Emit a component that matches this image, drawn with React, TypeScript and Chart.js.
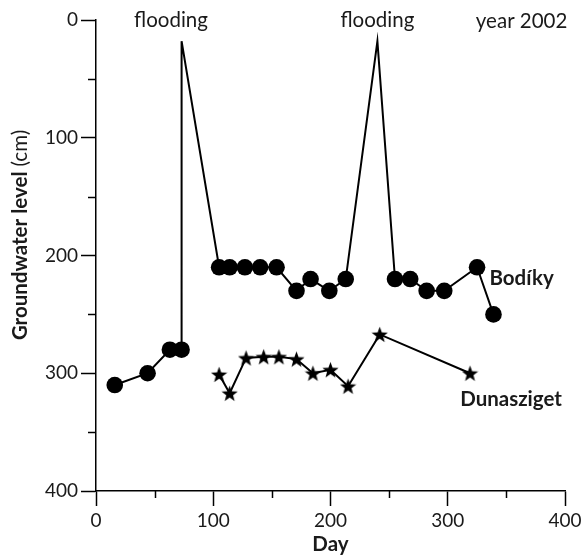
import React, { useEffect, useRef } from 'react';
import { Chart, registerables } from 'chart.js';
Chart.register(...registerables);

// Bodíky groundwater level (cm below surface); flooding peaks have no marker
const bodikyDay = [16, 44, 63, 73, 73, 105, 114, 127, 140, 154, 171, 183, 199, 213, 240, 255, 268, 282, 297, 325, 339];
const bodikyLevel = [310, 300, 280, 280, 18, 210, 210, 210, 210, 210, 230, 220, 230, 220, 18, 220, 220, 230, 230, 210, 250];
const bodikyMeasured = [true, true, true, true, false, true, true, true, true, true, true, true, true, true, false, true, true, true, true, true, true];

// Dunasziget groundwater level
const dunaDay = [105, 114, 128, 143, 156, 171, 185, 200, 215, 242, 319];
const dunaLevel = [301, 317, 287, 286, 286, 288, 300, 297, 311, 267, 300];

const majorStep = 100;
const minorStep = 50;

const FONT = 'Lato, "Open Sans", "DejaVu Sans", sans-serif';
const TEXT = '#1a1a1a';
const LABEL_SIZE = 20.5;
const TICK_SIZE = 19;

function makeStar(size: number): HTMLCanvasElement {
  const c = document.createElement('canvas');
  c.width = size;
  c.height = size;
  const g = c.getContext('2d')!;
  const cx = size / 2;
  const cy = size / 2 + 0.8;
  const ro = size / 2;
  const ri = ro * 0.42;
  g.beginPath();
  for (let i = 0; i < 10; i++) {
    const r = i % 2 === 0 ? ro : ri;
    const a = -Math.PI / 2 + (i * Math.PI) / 5;
    const px = cx + r * Math.cos(a);
    const py = cy + r * Math.sin(a);
    if (i === 0) g.moveTo(px, py);
    else g.lineTo(px, py);
  }
  g.closePath();
  g.fillStyle = '#000';
  g.fill();
  return c;
}

export default function App() {
  const ref = useRef<HTMLCanvasElement | null>(null);

  useEffect(() => {
    const star = makeStar(17);

    const decor = {
      id: 'decor',
      afterDraw(chart: any) {
        const ctx = chart.ctx as CanvasRenderingContext2D;
        const xs = chart.scales.x;
        const ys = chart.scales.y;
        const area = chart.chartArea;
        ctx.save();
        // minor ticks
        ctx.strokeStyle = '#000';
        ctx.lineWidth = 1.5;
        for (let v = minorStep; v < 400; v += majorStep) {
          const px = Math.round(xs.getPixelForValue(v)) + 0.5;
          ctx.beginPath();
          ctx.moveTo(px, area.bottom);
          ctx.lineTo(px, area.bottom + 7);
          ctx.stroke();
          const py = Math.round(ys.getPixelForValue(v)) + 0.5;
          ctx.beginPath();
          ctx.moveTo(area.left - 8, py);
          ctx.lineTo(area.left, py);
          ctx.stroke();
        }
        ctx.fillStyle = TEXT;
        ctx.textBaseline = 'alphabetic';
        ctx.textAlign = 'center';
        // annotations
        ctx.font = `${LABEL_SIZE}px ${FONT}`;
        ctx.fillText('flooding', xs.getPixelForValue(64), 27);
        ctx.fillText('flooding', xs.getPixelForValue(240), 27);
        ctx.fillText('year 2002', xs.getPixelForValue(363), 28);
        ctx.font = `bold ${LABEL_SIZE}px ${FONT}`;
        ctx.fillText('Bodíky', xs.getPixelForValue(363), ys.getPixelForValue(225));
        ctx.fillText('Dunasziget', xs.getPixelForValue(354), ys.getPixelForValue(328));
        // axis titles
        ctx.fillText('Day', (area.left + area.right) / 2, 551);
        ctx.translate(27, 235);
        ctx.rotate(-Math.PI / 2);
        ctx.textAlign = 'left';
        const boldPart = 'Groundwater level ';
        const normPart = '(cm)';
        ctx.font = `bold ${LABEL_SIZE}px ${FONT}`;
        const w1 = ctx.measureText(boldPart).width;
        ctx.font = `${LABEL_SIZE}px ${FONT}`;
        const w2 = ctx.measureText(normPart).width;
        const start = -(w1 + w2) / 2;
        ctx.font = `bold ${LABEL_SIZE}px ${FONT}`;
        ctx.fillText(boldPart, start, 0);
        ctx.font = `${LABEL_SIZE}px ${FONT}`;
        ctx.fillText(normPart, start + w1, 0);
        ctx.restore();
      },
    };

    const majorColor = (c: any) => (c.tick && c.tick.value % majorStep === 0 ? '#000' : 'rgba(0,0,0,0)');
    const tickCb = (v: any) => (Number(v) % majorStep === 0 ? String(v) : '');

    const chart = new Chart(ref.current!, {
      type: 'line',
      data: {
        datasets: [
          {
            label: 'Bodíky',
            data: bodikyDay.map((d, i) => ({ x: d, y: bodikyLevel[i] })),
            borderColor: '#000',
            borderWidth: 2,
            backgroundColor: '#000',
            pointBackgroundColor: '#000',
            pointBorderColor: '#000',
            pointBorderWidth: 0,
            pointRadius: bodikyMeasured.map((m) => (m ? 8.3 : 0)),
            pointHoverRadius: bodikyMeasured.map((m) => (m ? 8.3 : 0)),
            tension: 0,
            fill: false,
          },
          {
            label: 'Dunasziget',
            data: dunaDay.map((d, i) => ({ x: d, y: dunaLevel[i] })),
            borderColor: '#000',
            borderWidth: 2,
            backgroundColor: '#000',
            pointStyle: star as any,
            pointRadius: 8,
            tension: 0,
            fill: false,
          },
        ],
      },
      options: {
        responsive: false,
        animation: false,
        layout: { padding: { top: 20, right: 22, left: 0, bottom: 0 } },
        plugins: { legend: { display: false }, tooltip: { enabled: false } },
        scales: {
          x: {
            type: 'linear',
            min: 0,
            max: 400,
            afterFit: (s: any) => {
              s.height = 69;
            },
            ticks: {
              stepSize: minorStep,
              callback: tickCb,
              font: { family: FONT, size: TICK_SIZE },
              color: TEXT,
              padding: 3,
              maxRotation: 0,
              autoSkip: false,
            },
            grid: {
              drawOnChartArea: false,
              drawTicks: true,
              tickLength: 15,
              tickWidth: 1.5,
              color: majorColor,
            },
            border: { display: true, color: '#000', width: 1.5 },
          },
          y: {
            type: 'linear',
            reverse: true,
            min: 0,
            max: 400,
            afterFit: (s: any) => {
              s.width = 96;
            },
            ticks: {
              stepSize: minorStep,
              callback: tickCb,
              font: { family: FONT, size: TICK_SIZE },
              color: TEXT,
              padding: 3,
              autoSkip: false,
            },
            grid: {
              drawOnChartArea: false,
              drawTicks: true,
              tickLength: 15,
              tickWidth: 1.5,
              color: majorColor,
            },
            border: { display: true, color: '#000', width: 1.5 },
          },
        },
      },
      plugins: [decor],
    } as any);
    return () => chart.destroy();
  }, []);

  return (
    <div style={{ position: 'absolute', left: 0, top: 0, width: 587, height: 560, background: '#fff' }}>
      <canvas ref={ref} width={587} height={560} style={{ display: 'block', width: 587, height: 560 }} />
    </div>
  );
}
